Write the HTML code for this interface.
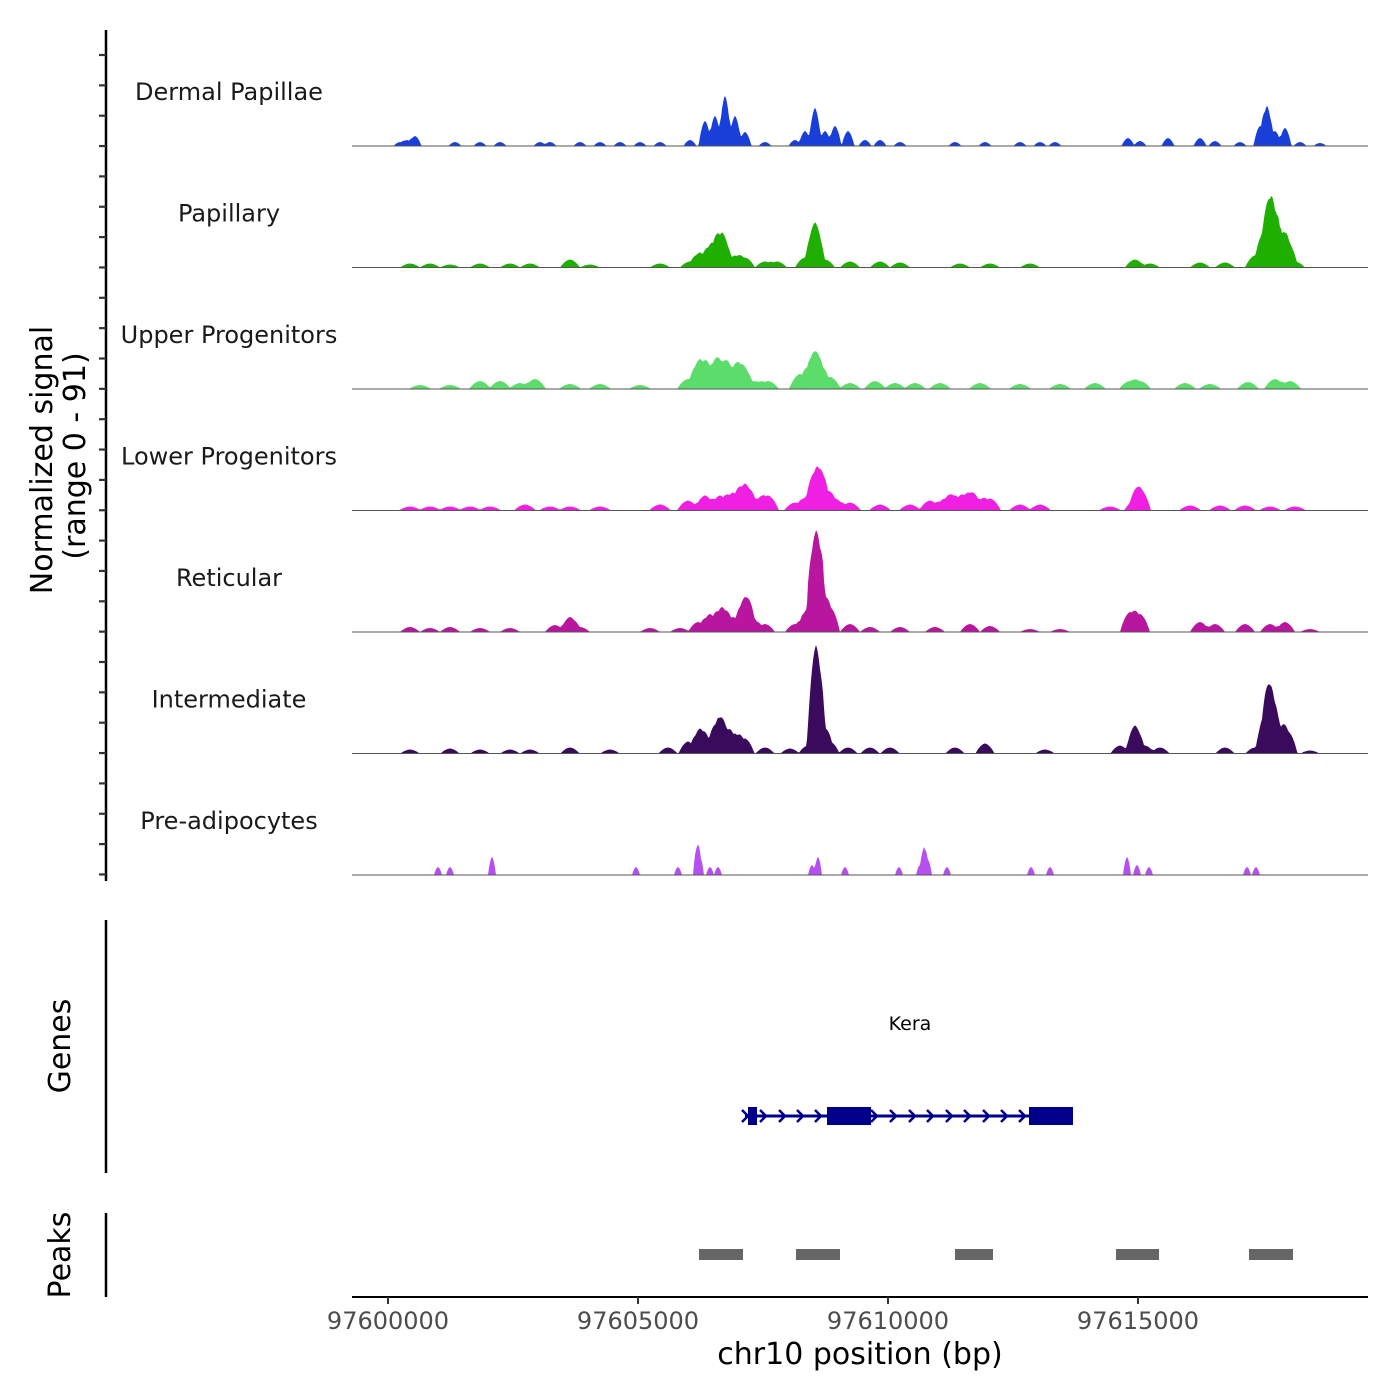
<!DOCTYPE html>
<html><head><meta charset="utf-8"><style>
html,body{margin:0;padding:0;background:#fff}
svg{display:block;font-family:"DejaVu Sans","Liberation Sans",sans-serif}
</style></head><body>
<svg id="chart" width="1400" height="1400" viewBox="0 0 1400 1400" xmlns="http://www.w3.org/2000/svg">
<rect width="1400" height="1400" fill="#fff"/>
<g id="tracks"></g>
<line x1="106" y1="30" x2="106" y2="881" stroke="#000" stroke-width="2.5"/>
<g id="yticks"></g>
<text transform="translate(52,460) rotate(-90)" text-anchor="middle" font-size="30">Normalized signal</text>
<text transform="translate(85,456) rotate(-90)" text-anchor="middle" font-size="30">(range 0 - 91)</text>
<line x1="106" y1="920" x2="106" y2="1173" stroke="#000" stroke-width="2.5"/>
<text transform="translate(70,1046) rotate(-90)" text-anchor="middle" font-size="30">Genes</text>
<g id="genes"></g>
<line x1="106" y1="1213" x2="106" y2="1297" stroke="#000" stroke-width="2.5"/>
<text transform="translate(70,1255) rotate(-90)" text-anchor="middle" font-size="30">Peaks</text>
<g id="peaks"></g>
<line x1="352" y1="1297" x2="1368" y2="1297" stroke="#000" stroke-width="2"/>
<g id="xticks"></g>
<text x="860" y="1364" text-anchor="middle" font-size="30">chr10 position (bp)</text>
</svg>
<script>
const START = 97600000;
const trackNames = ["Dermal Papillae","Papillary","Upper Progenitors","Lower Progenitors","Reticular","Intermediate","Pre-adipocytes"];
const trackColors = ["#1a3fd8","#1faf00","#5bdc6b","#f01fe4","#b8169f","#3a0a5c","#b64ff0"];
const trackWidths = [130,200,220,220,200,190,80];
// peaks: [bp offset from START, signal height, optional half-width bp]
const dermalPapillae = [[240,4],[380,6],[540,10],[1340,4],[1840,4],[2240,4],[3040,4],[3240,4],[3840,4],[4240,4],[4640,4],[5040,4],[5440,4],[6040,6],[6340,25],[6540,30],[6740,50],[6940,30],[7140,14],[7540,4],[8140,6],[8340,15],[8540,38],[8740,15],[8940,20],[9200,15],[9540,6],[9840,6],[10240,4],[11340,4],[11940,4],[12640,4],[13040,4],[13340,4],[14800,8],[15040,5],[15600,8],[16240,8],[16540,5],[17040,4],[17440,20],[17580,40],[17740,15],[17940,18],[18240,4],[18640,3]];
const papillary = [[440,4],[840,4],[1240,3],[1840,4],[2440,4],[2840,4],[3640,8],[4040,3],[5440,4],[6040,6],[6240,15],[6480,25],[6680,35],[6940,12],[7140,10],[7540,6],[7780,6],[8340,10],[8540,45],[8740,8],[9240,6],[9840,6],[10240,5],[11440,4],[12040,4],[12840,4],[14940,8],[15240,4],[16240,5],[16740,5],[17340,12],[17540,40],[17680,62],[17840,25],[17980,28],[18140,6]];
const upperProgenitors = [[640,4],[1240,4],[1840,8],[2240,8],[2640,6],[2940,10],[3640,5],[4240,5],[5040,4],[6000,10],[6240,30],[6480,25],[6680,28],[6880,20],[7080,25],[7340,8],[7600,8],[8240,15],[8480,25],[8600,28],[8840,12],[9240,6],[9740,8],[10140,6],[10540,6],[11040,6],[11840,6],[12640,5],[13440,5],[14140,6],[14840,8],[15040,8],[15940,6],[16440,5],[17200,7],[17740,10],[18040,8]];
const lowerProgenitors = [[440,4],[840,4],[1240,4],[1640,4],[2040,4],[2740,6],[3240,4],[3640,4],[4240,4],[5440,6],[6000,10],[6340,15],[6640,15],[6900,18],[7140,27],[7380,12],[7600,15],[8140,8],[8400,15],[8580,42],[8740,20],[8940,12],[9240,8],[9840,6],[10440,6],[10840,10],[11140,12],[11340,15],[11600,18],[11800,12],[12040,12],[12640,6],[13040,6],[14440,4],[14940,10],[15040,22],[16040,5],[16640,5],[17140,5],[17640,4],[18140,4]];
const reticular = [[440,5],[840,4],[1240,5],[1840,4],[2440,4],[3340,7],[3640,15],[3840,5],[5240,4],[5840,4],[6200,10],[6440,18],[6680,25],[6900,15],[7140,35],[7280,15],[7540,8],[8140,8],[8340,12],[8440,20],[8560,97],[8680,30],[8840,25],[9240,8],[9640,5],[10240,5],[10940,5],[11640,8],[12040,6],[12840,3],[13440,3],[14840,20],[15040,18],[16240,10],[16540,8],[17140,8],[17640,8],[17940,10],[18440,3]];
const intermediate = [[440,4],[1240,5],[1840,4],[2440,4],[2840,4],[3640,6],[4440,4],[5600,6],[6000,12],[6240,25],[6440,15],[6600,30],[6740,25],[6940,20],[7140,15],[7540,6],[8040,5],[8400,8],[8560,108],[8700,25],[8840,12],[9200,6],[9640,6],[10040,6],[11340,6],[11940,10],[13140,4],[14640,8],[14940,28],[15140,8],[15440,6],[16740,6],[17340,6],[17540,40],[17660,60],[17840,25],[18000,22],[18440,3]];
const preAdipocytes = [[1000,8],[1240,8],[2080,18],[4960,8],[5800,8],[6180,28],[6240,18],[6440,8],[6600,8],[8480,10],[8600,18],[9140,8],[10220,8],[10640,10],[10720,28],[10800,15],[11180,8],[12860,8],[13240,8],[14780,18],[14980,10],[15220,8],[17180,8],[17360,8]];
const trackData = [dermalPapillae,papillary,upperProgenitors,lowerProgenitors,reticular,intermediate,preAdipocytes];
// gene model
const geneStart = 97607140, geneEnd = 97613680;
const exonStarts = [97607200,97608780,97612820];
const exonEnds = [97607380,97609660,97613700];
const arrowPositions = [97607140,97607500,97607880,97608240,97608600,97609720,97610100,97610480,97610840,97611220,97611580,97611960,97612320,97612680];
// peaks
const peakStarts = [97606220,97608160,97611340,97614560,97617220];
const peakEnds = [97607100,97609040,97612100,97615420,97618100];
const xTicks = [97600000,97605000,97610000,97615000];

const NS="http://www.w3.org/2000/svg";
const X0=352,X1=1368,BP0=97599280,BP1=97619600;
function xs(bp){return X0+(bp-BP0)/(BP1-BP0)*(X1-X0);}
const TRACK_H=121.5, SIG_MAX=121;
function ys(v,base){return base - v/SIG_MAX*TRACK_H;}
function mk(tag,attrs,parent){const e=document.createElementNS(NS,tag);for(const k in attrs)e.setAttribute(k,attrs[k]);parent.appendChild(e);return e;}

const gT=document.getElementById('tracks');
trackNames.forEach((name,i)=>{
  const base=146+i*121.5;
  const data=trackData[i];
  const hw=trackWidths[i];
  let d=`M${X0},${base}`;
  for(let bp=START-720;bp<=START+19600;bp+=20){
    const off=bp-START;let v=0,s=0;
    for(const p of data){const w=p[2]||hw;const dd=Math.abs(off-p[0]);if(dd<w){const c=p[1]*(1-(dd/w)*(dd/w)*0.8-0.2*dd/w);v=Math.max(v,c);s+=c;}}
    v=Math.max(v,Math.min(s*0.8,v*1.6));
    d+=`L${xs(bp).toFixed(1)},${ys(v,base).toFixed(1)}`;
  }
  d+=`L${X1},${base}Z`;
  const path=mk('path',{d:d,fill:trackColors[i],stroke:'none'},gT);
  
  
  const bl=mk('line',{x1:X0,x2:X1,y1:base,y2:base,stroke:'#555','stroke-width':1},gT);
  
  
  const lab=mk('text',{x:229,y:base-46,'text-anchor':'middle','font-size':24,fill:'#1a1a1a'},gT);
  lab.textContent=name;
  
  
});
const gY=document.getElementById('yticks');
for(let k=0;k<28;k++){
  const y=55+k*30.35;
  const t=mk('line',{x1:99,x2:106,y1:y,y2:y,stroke:'#333','stroke-width':2.2},gY);
  
  
}
const gG=document.getElementById('genes');
const gy=1116;
const gl=mk('line',{x1:xs(geneStart),x2:xs(geneEnd),y1:gy,y2:gy,stroke:'#00008b','stroke-width':3},gG);


arrowPositions.forEach(p=>{
  const x=xs(p);
  const a=mk('path',{d:`M${x-3},${gy-6}L${x+3},${gy}L${x-3},${gy+6}`,fill:'none',stroke:'#00008b','stroke-width':2.5},gG);
  
  
});
exonStarts.forEach((s,i)=>{
  const r=mk('rect',{x:xs(s),y:gy-9,width:xs(exonEnds[i])-xs(s),height:18,fill:'#00008b'},gG);
  
  
});
const gn=mk('text',{x:910,y:1030,'text-anchor':'middle','font-size':19,fill:'#000'},gG);
gn.textContent='Kera';


const gP=document.getElementById('peaks');
peakStarts.forEach((s,i)=>{
  const r=mk('rect',{x:xs(s),y:1249,width:xs(peakEnds[i])-xs(s),height:11,fill:'#666'},gP);
  
  
});
const gX=document.getElementById('xticks');
xTicks.forEach(v=>{
  const x=xs(v);
  const t=mk('line',{x1:x,x2:x,y1:1297,y2:1304,stroke:'#333','stroke-width':2},gX);
  
  
  const l=mk('text',{x:x,y:1329,'text-anchor':'middle','font-size':24,fill:'#4d4d4d'},gX);
  l.textContent=v;
  
  
});
</script>
</body></html>
